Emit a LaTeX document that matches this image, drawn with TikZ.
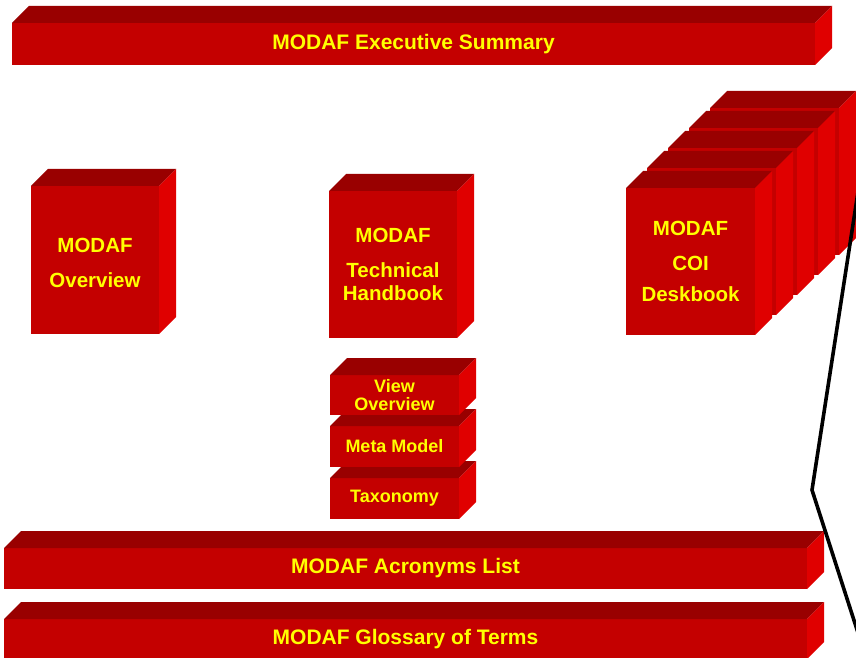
\documentclass[tikz,border=0pt]{standalone}
\usepackage{fontspec}
\setmainfont{Liberation Sans}
\definecolor{frontc}{HTML}{C40000}
\definecolor{topc}{HTML}{990000}
\definecolor{sidec}{HTML}{E00000}
\definecolor{textc}{HTML}{FFFF00}
\tikzset{
  slab/.style={fill=frontc, inner sep=0pt, outer sep=0pt, anchor=north west,
    text=textc, align=center, font=\bfseries\fontsize{21}{24}\selectfont},
  bookbox/.style={slab, minimum width=128, minimum height=147,
    font=\bfseries\fontsize{20.5}{23}\selectfont},
  smallbox/.style={slab, minimum width=129, minimum height=41,
    font=\bfseries\fontsize{18}{17.5}\selectfont},
  topface/.style={fill=topc},
  sideface/.style={fill=sidec},
  pointer/.style={draw=black, line width=3.6pt, line join=miter}
}
\newcommand\depthfaces[2][17]{%
  \fill[topface] (#2.north west) -- ++(#1,#1) -- ([shift={(#1,#1)}]#2.north east) -- (#2.north east) -- cycle;
  \fill[sideface] (#2.north east) -- ([shift={(#1,#1)}]#2.north east) -- ([shift={(#1,#1)}]#2.south east) -- (#2.south east) -- cycle;}
\begin{document}
\begin{tikzpicture}[x=1pt,y=1pt]
\clip (0,0) rectangle (856,657);
\fill[white] (0,0) rectangle (856,657);

% Executive summary bar
\node[slab, minimum width=803, minimum height=42] (exec) at (12,634) {MODAF Executive Summary};
\depthfaces{exec}

% MODAF Overview
\node[bookbox, minimum height=148] (overview) at (31,471) {\raisebox{-5pt}[\height][\depth]{\begin{tabular}{@{}c@{}}MODAF\\[12pt]Overview\end{tabular}}};
\depthfaces{overview}

% Technical Handbook
\node[bookbox] (tech) at (329,466) {MODAF\\[12pt]Technical\\Handbook};
\depthfaces{tech}

% Handbook parts (drawn bottom-up: each upper one overlaps the one below)
\node[smallbox] (tax) at (330,179) {Taxonomy};
\depthfaces{tax}
\node[smallbox] (meta) at (330,231) {Meta Model};
\depthfaces{meta}
\node[smallbox, minimum height=40] (view) at (330,282) {View\\Overview};
\depthfaces{view}

% COI deskbook stack
\node[bookbox, minimum width=129] (coi4) at (710,549) {};
\depthfaces{coi4}
\node[bookbox, minimum width=129] (coi3) at (689,529) {};
\depthfaces{coi3}
\node[bookbox, minimum width=129] (coi2) at (668,509) {};
\depthfaces{coi2}
\node[bookbox, minimum width=129] (coi1) at (647,489) {};
\depthfaces{coi1}
\node[bookbox, minimum width=129] (coi) at (626,469) {MODAF\\[12pt]COI\\[8pt]Deskbook};
\depthfaces{coi}

% Acronyms and Glossary bars
\node[slab, minimum width=803, minimum height=41] (acro) at (4,109) {MODAF Acronyms List};
\depthfaces{acro}
\node[slab, minimum width=803, minimum height=40] (gloss) at (4,38) {MODAF Glossary of Terms};
\depthfaces{gloss}

% Pointer line
\coordinate (ptop) at (858,465);
\coordinate (pkink) at (812,167);
\coordinate (pbot) at (860,18);
\draw[pointer] (ptop) -- (pkink) -- (pbot);
\end{tikzpicture}
\end{document}
